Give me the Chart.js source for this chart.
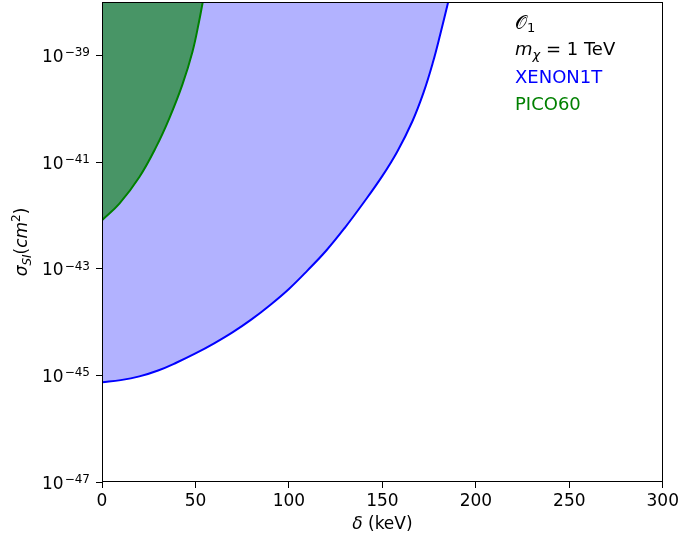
<!DOCTYPE html>
<html>
<head>
<meta charset="utf-8">
<script src="https://cdn.jsdelivr.net/npm/chart.js@4.4.1/dist/chart.umd.min.js"></script>
<style>
  html, body { margin: 0; padding: 0; background: #fff; }
  #wrap { width: 682px; height: 539px; }
</style>
</head>
<body>
<div id="wrap"><canvas id="chart" width="682" height="539"></canvas></div>
<script>
// XENON1T boundary: delta (keV) vs sigma_SI (cm^2)
const xenonDelta = [0, 10, 20, 30, 40, 50, 60, 70, 80, 90, 100, 110, 120, 130, 140, 150, 158, 166, 172, 177, 181, 185.2];
const xenonSigma = [7.4e-46, 8.13e-46, 9.55e-46, 1.23e-45, 1.74e-45, 2.57e-45, 3.98e-45, 6.46e-45, 1.12e-44, 2.09e-44, 4.17e-44, 9.3e-44, 2.19e-43, 5.9e-43, 1.74e-42, 5.5e-42, 1.58e-41, 5.75e-41, 2.0e-40, 7.33e-40, 2.51e-39, 1.0e-38];

// PICO60 boundary
const picoDelta = [0, 9.3, 20, 28.9, 36, 43, 48.4, 51.9, 53.9];
const picoSigma = [8.1e-43, 1.66e-42, 5.25e-42, 1.9e-41, 6.6e-41, 2.82e-40, 1.17e-39, 4.27e-39, 1.0e-38];

const xTicks = [0, 50, 100, 150, 200, 250, 300];
const yTickValues = [1e-47, 1e-45, 1e-43, 1e-41, 1e-39];
const yTickExponents = ['\u221247', '\u221245', '\u221243', '\u221241', '\u221239'];

const FONT = "'DejaVu Sans', sans-serif";

function toPoints(xs, ys) {
  return xs.map((x, i) => ({ x: x, y: ys[i] }));
}

// draws a row of text pieces (font / vertical shift) one after the other
function drawRuns(ctx, runs, x, y, align) {
  let total = 0;
  runs.forEach(r => { ctx.font = r.font; total += ctx.measureText(r.t).width; });
  let cx = x;
  if (align === 'center') cx = x - total / 2;
  if (align === 'right') cx = x - total;
  runs.forEach(r => {
    ctx.font = r.font;
    ctx.fillStyle = r.color || '#000';
    ctx.fillText(r.t, cx, y + (r.dy || 0));
    cx += ctx.measureText(r.t).width;
  });
}

const decorations = {
  id: 'decorations',
  afterDraw(chart) {
    const ctx = chart.ctx;
    const a = chart.chartArea;
    const yScale = chart.scales.y;
    ctx.save();

    // axes frame
    ctx.strokeStyle = '#000';
    ctx.lineWidth = 1;
    ctx.strokeRect(Math.round(a.left) + 0.5, Math.round(a.top) + 0.5,
      Math.round(a.right - a.left) - 1, Math.round(a.bottom - a.top) - 1);

    // y tick labels as 10^n
    ctx.textBaseline = 'alphabetic';
    yTickValues.forEach((v, i) => {
      const py = yScale.getPixelForValue(v);
      ctx.font = '12px ' + FONT;
      const wSup = ctx.measureText(yTickExponents[i]).width;
      ctx.font = '17px ' + FONT;
      const wTen = ctx.measureText('10').width;
      const right = a.left - 12;
      ctx.fillStyle = '#000';
      ctx.fillText('10', right - wSup - wTen - 1, py + 6.5);
      ctx.font = '12px ' + FONT;
      ctx.fillText(yTickExponents[i], right - wSup, py + 1);
    });

    // y axis title
    ctx.save();
    ctx.translate(27, (a.top + a.bottom) / 2);
    ctx.rotate(-Math.PI / 2);
    drawRuns(ctx, [
      { t: '\u03c3', font: 'italic 17px ' + FONT },
      { t: 'SI', font: 'italic 12px ' + FONT, dy: 4 },
      { t: '(', font: '17px ' + FONT },
      { t: 'cm', font: 'italic 17px ' + FONT },
      { t: '2', font: '12px ' + FONT, dy: -7 },
      { t: ')', font: '17px ' + FONT }
    ], 0, 0, 'center');
    ctx.restore();

    // x axis title
    drawRuns(ctx, [
      { t: '\u03b4', font: 'italic 17px ' + FONT },
      { t: ' (keV)', font: '17px ' + FONT }
    ], (a.left + a.right) / 2, 529, 'center');

    // annotation block, top right
    const tx = 515;
    drawRuns(ctx, [
      { t: '\ud835\udcaa', font: '19px ' + FONT },
      { t: '1', font: '13px ' + FONT, dy: 3 }
    ], tx, 29, 'left');
    drawRuns(ctx, [
      { t: 'm', font: 'italic 18px ' + FONT },
      { t: '\u03c7', font: 'italic 13px ' + FONT, dy: 4 },
      { t: ' = 1 TeV', font: '18px ' + FONT }
    ], tx, 55, 'left');
    drawRuns(ctx, [{ t: 'XENON1T', font: '18px ' + FONT, color: '#0000ff' }], tx, 83, 'left');
    drawRuns(ctx, [{ t: 'PICO60', font: '18px ' + FONT, color: '#008000' }], tx, 110, 'left');

    ctx.restore();
  }
};

new Chart(document.getElementById('chart').getContext('2d'), {
  type: 'line',
  data: {
    datasets: [
      {
        label: 'PICO60',
        data: toPoints(picoDelta, picoSigma),
        borderColor: '#008000',
        backgroundColor: 'rgba(0, 128, 0, 0.6)',
        borderWidth: 2,
        fill: 'end',
        pointRadius: 0,
        tension: 0.4,
        order: 1
      },
      {
        label: 'XENON1T',
        data: toPoints(xenonDelta, xenonSigma),
        borderColor: '#0000ff',
        backgroundColor: 'rgba(0, 0, 255, 0.3)',
        borderWidth: 2,
        fill: 'end',
        pointRadius: 0,
        tension: 0.4,
        order: 2
      }
    ]
  },
  options: {
    responsive: false,
    animation: false,
    events: [],
    layout: { padding: { top: 2, right: 17, left: 0, bottom: 0 } },
    plugins: {
      legend: { display: false },
      tooltip: { enabled: false }
    },
    scales: {
      x: {
        type: 'linear',
        min: 0,
        max: 300,
        afterBuildTicks: function (s) { s.ticks = xTicks.map(v => ({ value: v })); },
        ticks: {
          color: '#000',
          font: { family: FONT, size: 17 },
          padding: 3,
          maxRotation: 0
        },
        grid: { drawOnChartArea: false, color: '#000', tickLength: 6 },
        border: { display: false },
        afterFit: function (s) { s.height = 57; }
      },
      y: {
        type: 'logarithmic',
        min: 1e-47,
        max: 1e-38,
        afterBuildTicks: function (s) { s.ticks = yTickValues.map(v => ({ value: v })); },
        ticks: { display: false },
        grid: { drawOnChartArea: false, color: '#000', tickLength: 6 },
        border: { display: false },
        afterFit: function (s) { s.width = 102; }
      }
    }
  },
  plugins: [decorations]
});
</script>
</body>
</html>
